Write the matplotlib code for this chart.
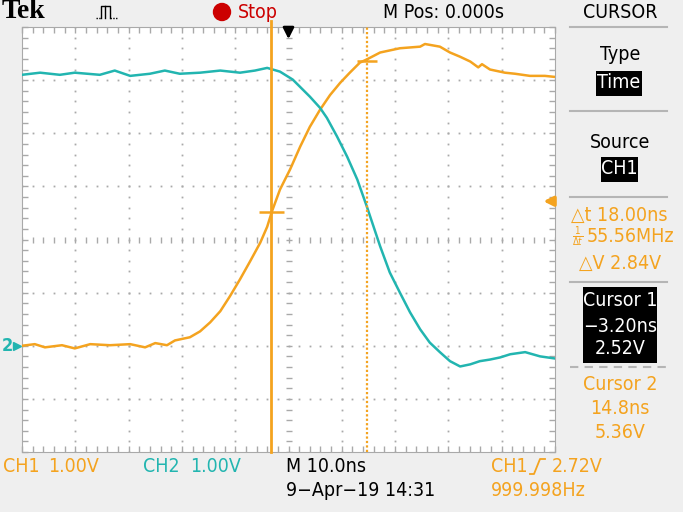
import numpy as np
import matplotlib
matplotlib.use("Agg")
import matplotlib.pyplot as plt
from matplotlib.patches import Rectangle, Ellipse
from matplotlib.lines import Line2D

# CH1 (orange) trace, time in ns, volts (1 V/div)
ch1_t = [-50.0, -47.6, -45.7, -42.5, -40.1, -37.2, -33.5, -29.7, -26.9, -25.0,
         -22.8, -21.3, -18.5, -16.6, -14.7, -12.8, -11.0, -9.1, -7.2, -5.3,
         -4.0, -3.1, -1.6, 0.3, 2.2, 4.0, 5.9, 7.8, 9.7, 11.5,
         13.4, 14.7, 17.2, 20.9, 24.7, 25.6, 28.4, 30.3, 32.2, 34.1,
         35.6, 36.3, 37.8, 40.6, 42.5, 45.3, 48.1, 50.0]
ch1_v = [0.00, 0.03, -0.03, 0.01, -0.05, 0.03, 0.01, 0.03, -0.03, 0.05,
         0.01, 0.10, 0.16, 0.27, 0.44, 0.65, 0.93, 1.25, 1.59, 1.94,
         2.24, 2.53, 2.94, 3.32, 3.75, 4.12, 4.44, 4.72, 4.95, 5.14,
         5.33, 5.39, 5.52, 5.60, 5.63, 5.68, 5.63, 5.52, 5.44, 5.35,
         5.24, 5.30, 5.20, 5.14, 5.12, 5.08, 5.08, 5.06]

# CH2 (cyan) trace
ch2_t = [-50.0, -46.6, -42.9, -40.1, -35.4, -32.6, -29.7, -26.0, -23.2, -20.4,
         -16.6, -12.8, -9.1, -6.3, -4.0, -1.6, 0.8, 4.0, 5.9, 7.2,
         9.1, 11.0, 12.9, 14.7, 17.2, 19.0, 20.9, 22.8, 24.7, 26.5,
         28.4, 30.3, 32.2, 34.1, 35.9, 37.8, 39.7, 41.6, 44.4, 47.2, 50.0]
ch2_v = [5.10, 5.14, 5.10, 5.14, 5.10, 5.18, 5.08, 5.12, 5.18, 5.12,
         5.14, 5.18, 5.14, 5.18, 5.23, 5.16, 5.01, 4.69, 4.48, 4.29,
         3.94, 3.56, 3.13, 2.62, 1.87, 1.38, 1.00, 0.63, 0.31, 0.06,
         -0.12, -0.29, -0.39, -0.35, -0.29, -0.26, -0.22, -0.16, -0.12, -0.20, -0.24]

cursor1_t, cursor1_v = -3.20, 2.52
cursor2_t, cursor2_v = 14.8, 5.36
trig_level = 2.72
ground_v = 0.0

W, H = 683, 512
ORANGE = "#f4a31f"
CYAN = "#22b5b0"
GRID = "#a9a9a9"
BG = "#efefef"

# narrow scope-like lettering
plt.rcParams["font.family"] = ["DejaVu Sans"]
plt.rcParams["font.stretch"] = "condensed"

fig = plt.figure(figsize=(W / 100, H / 100), dpi=100, facecolor=BG)


def fx(x):
    return x / W


def fy(y):
    return 1 - y / H


def label(x, y, s, color="black", size=14, ha="left", **kw):
    fig.text(fx(x), fy(y), s, color=color, fontsize=size, ha=ha, va="center", **kw)


def polyline(pts, **kw):
    fig.add_artist(Line2D([fx(p[0]) for p in pts], [fy(p[1]) for p in pts],
                          transform=fig.transFigure, **kw))


def box(x0, y0, x1, y1):
    fig.add_artist(Rectangle((fx(x0), fy(y1)), (x1 - x0) / W, (y1 - y0) / H,
                             transform=fig.transFigure, facecolor="black", edgecolor="none"))


# --- graticule ---
ax = fig.add_axes([fx(22), fy(452), 533 / W, 425 / H])
ax.set_facecolor("white")
ax.set_xlim(-50, 50)
ax.set_ylim(-2, 6)

minor_t = np.arange(-50, 50.1, 2)
minor_v = np.arange(-2, 6.01, 0.2)
for t in range(-40, 41, 10):
    if t != 0:
        ax.plot(np.full_like(minor_v, t), minor_v, ls="none", marker="s", ms=1.3,
                color=GRID, mew=0)
for v in range(-1, 6):
    if v != 2:
        ax.plot(minor_t, np.full_like(minor_t, v), ls="none", marker="s", ms=1.3,
                color=GRID, mew=0)
ax.plot(minor_t, np.full_like(minor_t, 2.0), ls="none", marker="|", ms=5, mew=1, color=GRID)
ax.plot(np.zeros_like(minor_v), minor_v, ls="none", marker="_", ms=5, mew=1, color=GRID)

ax.set_xticks(np.arange(-50, 51, 10))
ax.set_xticks(minor_t, minor=True)
ax.set_yticks(np.arange(-2, 7, 1))
ax.set_yticks(minor_v, minor=True)
ax.tick_params(which="both", direction="in", length=4, width=1, color=GRID,
               top=True, right=True, labelbottom=False, labelleft=False)
for s in ax.spines.values():
    s.set_color(GRID)

# --- traces ---
ax.plot(ch1_t, ch1_v, color=ORANGE, lw=1.8, zorder=3)
ax.plot(ch2_t, ch2_v, color=CYAN, lw=1.8, zorder=3)

# --- cursors ---
ax.axvline(cursor1_t, ymax=1.015, color=ORANGE, lw=2, zorder=5, clip_on=False)
ax.axvline(cursor2_t, color=ORANGE, lw=1.6, ls=(0, (1, 1)), zorder=5)
ax.plot(cursor1_t, cursor1_v, marker="_", ms=18, mew=1.8, color=ORANGE, zorder=5)
ax.plot(cursor2_t, cursor2_v, marker="_", ms=15, mew=1.8, color=ORANGE, zorder=5)

# trigger markers
ax.annotate("", xy=(0, 5.72), xytext=(0, 6.0),
            arrowprops=dict(arrowstyle="-|>", color="black", lw=2, mutation_scale=16),
            annotation_clip=False, zorder=6)
ax.annotate("", xy=(47.3, trig_level), xytext=(50.2, trig_level),
            arrowprops=dict(arrowstyle="-|>", color=ORANGE, lw=2.5, mutation_scale=14),
            annotation_clip=False, zorder=6)
ytr = ax.get_yaxis_transform()
ax.text(-0.038, ground_v, "2", transform=ytr, color=CYAN, fontsize=13,
        fontweight="bold", va="center", ha="left")
ax.plot([-0.01], [ground_v], transform=ytr, marker=">", ms=6, color=CYAN, clip_on=False)

# --- top bar ---
fig.text(fx(2), fy(12), "Tek", fontsize=20, fontweight="bold", va="center",
         family=["Liberation Serif", "DejaVu Serif"], fontstretch="normal")
polyline([(96, 18), (101, 18)], color="black", lw=1, ls=(0, (1, 1)))
polyline([(101, 18), (101, 6), (110, 6), (110, 18)], color="black", lw=1)
polyline([(105, 6), (105, 18)], color="black", lw=1)
polyline([(110, 18), (118, 18)], color="black", lw=1, ls=(0, (1, 1)))
fig.add_artist(Ellipse((fx(222), fy(12)), 17 / W, 17 / H, transform=fig.transFigure,
                       color="#cc0000"))
label(238, 12, "Stop", color="#cc0000")
label(383, 12, "M Pos: 0.000s")
label(620, 12, "CURSOR", ha="center")

# --- right menu ---
for y in (27, 111, 197, 282):
    polyline([(570, y), (667, y)], color="#b5b5b5", lw=1.5)
polyline([(570, 367), (667, 367)], color="#b5b5b5", lw=1.5, ls=(0, (4, 3)))

label(620, 55, "Type", ha="center")
box(596, 71, 642, 96)
label(619, 83, "Time", color="white", ha="center")
label(620, 142, "Source", ha="center")
box(601, 157, 638, 182)
label(619, 169, "CH1", color="white", ha="center")

label(619, 215, "\u25b3t 18.00ns", color=ORANGE, ha="center")
label(630, 237, "55.56MHz", color=ORANGE, ha="center")
label(578, 237, r"$\frac{1}{\Delta t}$", color=ORANGE, size=10, ha="center")
label(620, 263, "\u25b3V 2.84V", color=ORANGE, ha="center")

box(583, 287, 657, 363)
label(620, 301, "Cursor 1", color="white", ha="center")
label(620, 326, "\u22123.20ns", color="white", ha="center")
label(620, 349, "2.52V", color="white", ha="center")
label(620, 385, "Cursor 2", color=ORANGE, ha="center")
label(620, 409, "14.8ns", color=ORANGE, ha="center")
label(620, 433, "5.36V", color=ORANGE, ha="center")

# --- bottom readout ---
label(3, 466, "CH1", color=ORANGE)
label(48, 466, "1.00V", color=ORANGE)
label(143, 466, "CH2", color=CYAN)
label(190, 466, "1.00V", color=CYAN)
label(286, 466, "M 10.0ns")
label(286, 491, "9\u2212Apr\u221219 14:31")
label(491, 466, "CH1", color=ORANGE)
polyline([(530, 474), (534, 474), (540, 459), (545, 459)], color=ORANGE, lw=1.3)
label(552, 466, "2.72V", color=ORANGE)
label(491, 491, "999.998Hz", color=ORANGE)

fig.savefig("out.png", dpi=100, facecolor=BG)
